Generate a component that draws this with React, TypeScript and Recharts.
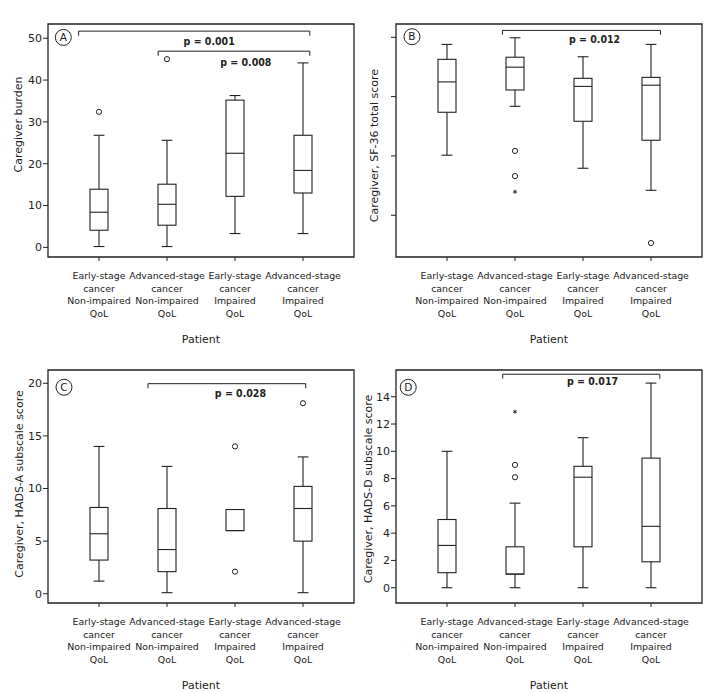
import React from 'react';
import { ComposedChart, Bar, XAxis, YAxis, ReferenceArea, ReferenceLine, ReferenceDot } from 'recharts';

const groupX = [1, 2, 3, 4];
const groupLabels = [
  ['Early-stage', 'cancer', 'Non-impaired', 'QoL'],
  ['Advanced-stage', 'cancer', 'Non-impaired', 'QoL'],
  ['Early-stage', 'cancer', 'Impaired', 'QoL'],
  ['Advanced-stage', 'cancer', 'Impaired', 'QoL'],
];

// A - caregiver burden
const burdenLow = [0.2, 0.2, 3.3, 3.3];
const burdenQ1 = [4.1, 5.3, 12.2, 13.0];
const burdenMedian = [8.4, 10.3, 22.5, 18.4];
const burdenQ3 = [13.9, 15.1, 35.2, 26.8];
const burdenHigh = [26.8, 25.6, 36.3, 44.1];
const burdenOutliers = [[32.4], [45.0], [], []];
const burdenExtremes: number[][] = [[], [], [], []];
const burdenTicks = [0, 10, 20, 30, 40, 50];

// B - SF-36 total score (tick labels not shown in the figure)
const sfLow = [50.3, 70.9, 44.8, 35.5];
const sfQ1 = [68.4, 77.8, 64.6, 56.6];
const sfMedian = [81.2, 87.4, 79.3, 79.8];
const sfQ3 = [90.7, 91.6, 82.7, 83.1];
const sfHigh = [97.0, 99.8, 91.8, 97.0];
const sfOutliers = [[], [52.1, 41.5], [], [13.3]];
const sfExtremes = [[], [34.9], [], []];
const sfTicks = [25, 50, 75, 100];

// C - HADS-A
const anxLow = [1.2, 0.1, 6, 0.1];
const anxQ1 = [3.2, 2.1, 6, 5.0];
const anxMedian = [5.7, 4.2, 6, 8.1];
const anxQ3 = [8.2, 8.1, 8, 10.2];
const anxHigh = [14.0, 12.1, 8, 13.0];
const anxOutliers = [[], [], [14.0, 2.1], [18.1]];
const anxExtremes: number[][] = [[], [], [], []];
const anxTicks = [0, 5, 10, 15, 20];

// D - HADS-D
const depLow = [0, 0, 0, 0];
const depQ1 = [1.1, 1.0, 3.0, 1.9];
const depMedian = [3.1, 1.0, 8.1, 4.5];
const depQ3 = [5.0, 3.0, 8.9, 9.5];
const depHigh = [10.0, 6.2, 11.0, 15.0];
const depOutliers = [[], [9.0, 8.1], [], []];
const depExtremes = [[], [12.9], [], []];
const depTicks = [0, 2, 4, 6, 8, 10, 12, 14];

const INK = '#222';
const FONT = '"DejaVu Sans", sans-serif';

const buildRows = (low, q1, med, q3, high, out, ext) =>
  groupX.map((x, i) => ({
    x,
    low: low[i],
    q1: q1[i],
    med: med[i],
    q3: q3[i],
    high: high[i],
    out: out[i],
    ext: ext[i],
  }));

const BoxShape = (props: any) => {
  const { x, y, width, height, payload } = props;
  const top = Math.min(y, y + height);
  const bottom = Math.max(y, y + height);
  const span = payload.high - payload.low;
  const toY = (v: number) => bottom - ((v - payload.low) / span) * (bottom - top);
  const cx = x + width / 2;
  const cap = width * 0.3;
  const yq1 = toY(payload.q1);
  const yq3 = toY(payload.q3);
  const ym = toY(payload.med);
  const yl = toY(payload.low);
  const yh = toY(payload.high);
  return (
    <g stroke={INK} strokeWidth={1.1} fill="none">
      {payload.high > payload.q3 && (
        <>
          <line x1={cx} x2={cx} y1={yh} y2={yq3} />
          <line x1={cx - cap} x2={cx + cap} y1={yh} y2={yh} />
        </>
      )}
      {payload.low < payload.q1 && (
        <>
          <line x1={cx} x2={cx} y1={yl} y2={yq1} />
          <line x1={cx - cap} x2={cx + cap} y1={yl} y2={yl} />
        </>
      )}
      <rect x={x} y={yq3} width={width} height={yq1 - yq3} fill="#fff" />
      <line x1={x} x2={x + width} y1={ym} y2={ym} />
      {payload.out.map((v: number, k: number) => (
        <circle key={'o' + k} cx={cx} cy={toY(v)} r={2.6} strokeWidth={1} />
      ))}
      {payload.ext.map((v: number, k: number) => {
        const cy = toY(v);
        return (
          <g key={'e' + k} strokeWidth={0.9}>
            <line x1={cx} x2={cx} y1={cy - 2} y2={cy + 2} />
            <line x1={cx - 1.8} x2={cx + 1.8} y1={cy - 1} y2={cy + 1} />
            <line x1={cx - 1.8} x2={cx + 1.8} y1={cy + 1} y2={cy - 1} />
          </g>
        );
      })}
    </g>
  );
};

const GroupTick = (props: any) => {
  const { x, y, payload } = props;
  const lines = groupLabels[Math.round(payload.value) - 1] || [];
  return (
    <text x={x} y={y} textAnchor="middle" fontFamily={FONT} fontSize={9.4} fill={INK}>
      {lines.map((t, i) => (
        <tspan key={i} x={x} dy={i === 0 ? 16 : 12.6}>
          {t}
        </tspan>
      ))}
    </text>
  );
};

type Bracket = { x1: number; x2: number; y: number; drop: number };
type Note = { x: number; y: number; text: string };

type PanelProps = {
  left: number;
  top: number;
  width: number;
  height: number;
  margin: any;
  yWidth: number;
  rows: any[];
  domain: [number, number];
  ticks: number[];
  showNumbers: boolean;
  yLabel: string;
  labelX: number;
  labelDy: number;
  brackets: Bracket[];
  notes: Note[];
  letter: Note;
};

const Panel = (p: PanelProps) => (
  <div style={{ position: 'absolute', left: p.left, top: p.top }}>
    <ComposedChart width={p.width} height={p.height} data={p.rows} margin={p.margin}>
      <XAxis
        type="number"
        dataKey="x"
        domain={[0.25, 4.75]}
        ticks={groupX}
        interval={0}
        allowDataOverflow
        axisLine={false}
        tickLine={{ stroke: INK }}
        tickSize={4}
        tick={<GroupTick />}
        height={89}
        label={{
          content: (lp: any) => {
            const vb = lp.viewBox;
            return (
              <text x={vb.x + vb.width / 2} y={vb.y + 85.5} textAnchor="middle" fontFamily={FONT} fontSize={11} fill={INK}>
                Patient
              </text>
            );
          },
        }}
      />
      <YAxis
        type="number"
        domain={p.domain}
        ticks={p.ticks}
        interval={0}
        allowDataOverflow
        axisLine={false}
        tickLine={{ stroke: INK }}
        tickSize={5}
        tickMargin={1}
        width={p.yWidth}
        tick={{ fontFamily: FONT, fontSize: 11, fill: INK }}
        tickFormatter={(v) => (p.showNumbers ? String(v) : '')}
        label={{
          content: (lp: any) => {
            const vb = lp.viewBox;
            const cy = vb.y + vb.height / 2 + p.labelDy;
            return (
              <text
                x={p.labelX}
                y={cy}
                transform={`rotate(-90 ${p.labelX} ${cy})`}
                textAnchor="middle"
                fontFamily={FONT}
                fontSize={11}
                fill={INK}
              >
                {p.yLabel}
              </text>
            );
          },
        }}
      />
      <ReferenceArea x1={0.25} x2={4.75} y1={p.domain[0]} y2={p.domain[1]} fill="none" stroke={INK} strokeWidth={1.3} fillOpacity={0} ifOverflow="visible" />
      <Bar dataKey={(d: any) => [d.low, d.high]} barSize={18} shape={<BoxShape />} isAnimationActive={false} />
      {p.brackets.map((b, i) => (
        <React.Fragment key={'b' + i}>
          <ReferenceLine segment={[{ x: b.x1, y: b.y }, { x: b.x2, y: b.y }]} stroke={INK} strokeWidth={1} ifOverflow="visible" />
          <ReferenceLine segment={[{ x: b.x1, y: b.y }, { x: b.x1, y: b.y - b.drop }]} stroke={INK} strokeWidth={1} ifOverflow="visible" />
          <ReferenceLine segment={[{ x: b.x2, y: b.y }, { x: b.x2, y: b.y - b.drop }]} stroke={INK} strokeWidth={1} ifOverflow="visible" />
        </React.Fragment>
      ))}
      {p.notes.map((n, i) => (
        <ReferenceDot
          key={'n' + i}
          x={n.x}
          y={n.y}
          ifOverflow="visible"
          shape={(sp: any) => (
            <text x={sp.cx} y={sp.cy} dy="0.35em" textAnchor="middle" fontFamily='"DejaVu Sans Condensed", "DejaVu Sans", sans-serif' fontWeight="bold" fontSize={10.5} fill={INK}>
              {n.text}
            </text>
          )}
        />
      ))}
      <ReferenceDot
        x={p.letter.x}
        y={p.letter.y}
        ifOverflow="visible"
        shape={(sp: any) => (
          <g>
            <circle cx={sp.cx} cy={sp.cy} r={8} fill="#fff" stroke={INK} strokeWidth={1} />
            <text x={sp.cx} y={sp.cy} dy="0.36em" textAnchor="middle" fontFamily={FONT} fontSize={10.5} fill={INK}>
              {p.letter.text}
            </text>
          </g>
        )}
      />
    </ComposedChart>
  </div>
);

export default function App() {
  return (
    <div style={{ position: 'absolute', left: 0, top: 0, width: 711, height: 692, background: '#fff' }}>
      <Panel
        left={0}
        top={0}
        width={360}
        height={346}
        margin={{ top: 24, right: 6, left: 8, bottom: 0 }}
        yWidth={40}
        rows={buildRows(burdenLow, burdenQ1, burdenMedian, burdenQ3, burdenHigh, burdenOutliers, burdenExtremes)}
        domain={[-2.3, 53.4]}
        ticks={burdenTicks}
        showNumbers
        yLabel="Caregiver burden"
        labelX={22}
        labelDy={-16}
        brackets={[
          { x1: 0.7, x2: 4.1, y: 51.7, drop: 1.1 },
          { x1: 1.87, x2: 4.1, y: 46.9, drop: 1.1 },
        ]}
        notes={[
          { x: 2.62, y: 49.2, text: 'p = 0.001' },
          { x: 3.16, y: 44.3, text: 'p = 0.008' },
        ]}
        letter={{ x: 0.475, y: 50.2, text: 'A' }}
      />
      <Panel
        left={355}
        top={0}
        width={356}
        height={346}
        margin={{ top: 24, right: 9, left: 8, bottom: 0 }}
        yWidth={33}
        rows={buildRows(sfLow, sfQ1, sfMedian, sfQ3, sfHigh, sfOutliers, sfExtremes)}
        domain={[7.4, 105.6]}
        ticks={sfTicks}
        showNumbers={false}
        yLabel="Caregiver, SF-36 total score"
        labelX={23}
        labelDy={5}
        brackets={[{ x1: 1.815, x2: 4.14, y: 102.9, drop: 1.8 }]}
        notes={[{ x: 3.17, y: 99.3, text: 'p = 0.012' }]}
        letter={{ x: 0.485, y: 100.25, text: 'B' }}
      />
      <Panel
        left={0}
        top={345}
        width={360}
        height={347}
        margin={{ top: 25, right: 6, left: 8, bottom: 0 }}
        yWidth={40}
        rows={buildRows(anxLow, anxQ1, anxMedian, anxQ3, anxHigh, anxOutliers, anxExtremes)}
        domain={[-0.88, 21.26]}
        ticks={anxTicks}
        showNumbers
        yLabel="Caregiver, HADS-A subscale score"
        labelX={23}
        labelDy={-2.5}
        brackets={[{ x1: 1.72, x2: 4.04, y: 19.96, drop: 0.44 }]}
        notes={[{ x: 3.08, y: 19.05, text: 'p = 0.028' }]}
        letter={{ x: 0.485, y: 19.62, text: 'C' }}
      />
      <Panel
        left={355}
        top={345}
        width={356}
        height={347}
        margin={{ top: 25, right: 9, left: 8, bottom: 0 }}
        yWidth={33}
        rows={buildRows(depLow, depQ1, depMedian, depQ3, depHigh, depOutliers, depExtremes)}
        domain={[-1.12, 15.96]}
        ticks={depTicks}
        showNumbers
        yLabel="Caregiver, HADS-D subscale score"
        labelX={17}
        labelDy={2.5}
        brackets={[{ x1: 1.82, x2: 4.13, y: 15.65, drop: 0.33 }]}
        notes={[{ x: 3.14, y: 15.1, text: 'p = 0.017' }]}
        letter={{ x: 0.43, y: 14.69, text: 'D' }}
      />
    </div>
  );
}
